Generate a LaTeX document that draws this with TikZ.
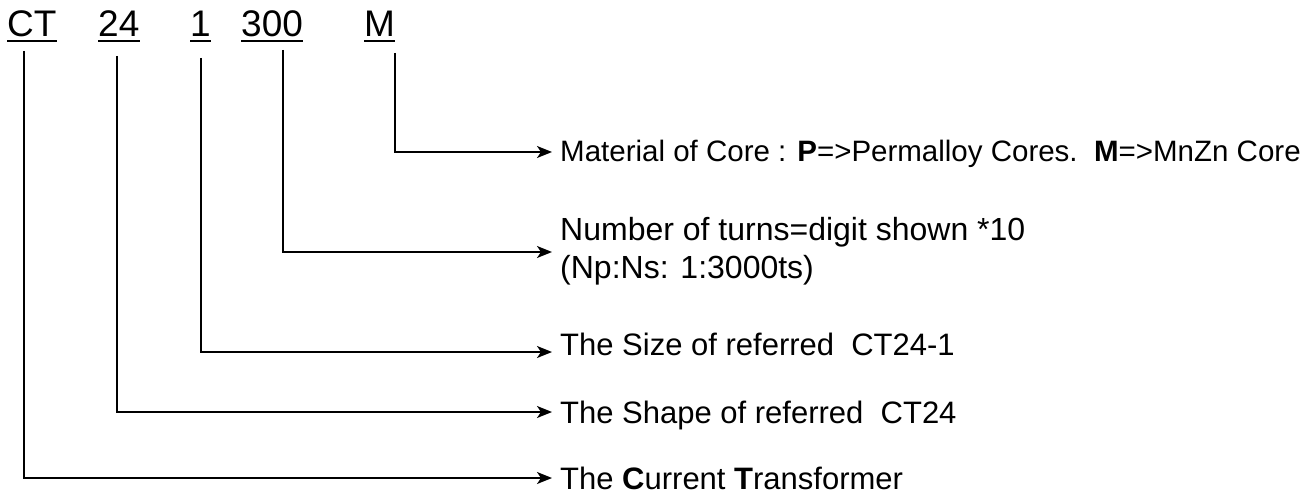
\documentclass[tikz,border=0pt]{standalone}
\usepackage{fontspec}
\setmainfont{Liberation Sans}
\usetikzlibrary{arrows.meta}

\begin{document}
\begin{tikzpicture}[x=1pt, y=-1pt,
    code/.style={inner sep=0pt, anchor=base west, font=\fontsize{37}{44}\selectfont},
    desc/.style={inner sep=0pt, anchor=base west, font=\fontsize{31}{38}\selectfont},
    uline/.style={line width=2pt},
    conn/.style={line width=1.8pt, -{Stealth[length=15pt, width=12pt, inset=4pt]}}]
    \useasboundingbox (0,0) rectangle (1309,497);

    % start of each leader, under its code letter
    \coordinate (sCT) at (24,51);
    \coordinate (sShape) at (117,56);
    \coordinate (sSize) at (201,58);
    \coordinate (sTurns) at (283,50);
    \coordinate (sMat) at (395,53);
    % arrow tips
    \coordinate (tMat) at (552,152);
    \coordinate (tTurns) at (552,252);
    \coordinate (tSize) at (552,352);
    \coordinate (tShape) at (552,412);
    \coordinate (tCT) at (552,478);

    % the code
    \node [code] (ct) at (7,37) {CT};
    \node [code] (shape) at (98,37) {24};
    \node [code] (size) at (190,37) {1};
    \node [code] (turns) at (241,37) {300};
    \node [code] (mat) at (364,37) {M};
    \foreach \n in {ct, shape, size, turns, mat}
        \draw [uline] ([yshift=-4pt]\n.base west) -- ([yshift=-4pt]\n.base east);

    % meanings
    \node [desc, font=\fontsize{29.5}{36}\selectfont] (dMat) at (560,162) {Material of Core : \textbf{P}=>Permalloy Cores.\ \ \textbf{M}=>MnZn Core};
    \node [desc, anchor=west, align=left, font=\fontsize{32}{38}\selectfont] (dTurns) at (560,251) {Number of turns=digit shown *10\\(Np:Ns: 1:3000ts)};
    \node [desc] (dSize) at (560,355) {The Size of referred\ \ CT24-1};
    \node [desc] (dShape) at (560,423) {The Shape of referred\ \ CT24};
    \node [desc] (dCT) at (560,489) {The \textbf{C}urrent \textbf{T}ransformer};

    \draw [conn] (sMat) |- (tMat);
    \draw [conn] (sTurns) |- (tTurns);
    \draw [conn] (sSize) |- (tSize);
    \draw [conn] (sShape) |- (tShape);
    \draw [conn] (sCT) |- (tCT);
\end{tikzpicture}
\end{document}
